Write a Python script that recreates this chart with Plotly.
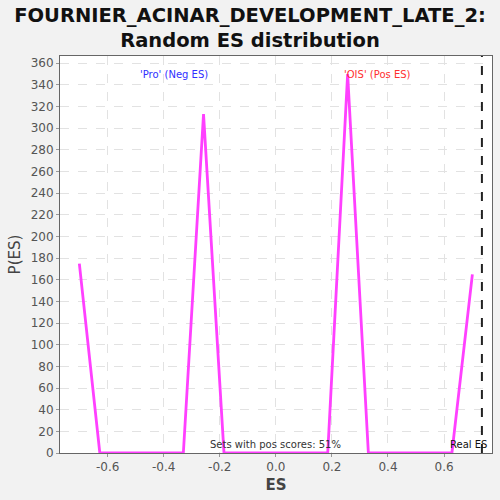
import plotly.graph_objects as go

# Data
es_values = [-0.701, -0.628, -0.330, -0.258, -0.185, 0.185, 0.256, 0.330, 0.628, 0.701]
p_es = [175, 0, 0, 313, 0, 0, 350, 0, 0, 165]
real_es = 0.735
x_ticks = [-0.6, -0.4, -0.2, 0.0, 0.2, 0.4, 0.6]
x_tick_labels = ["-0.6", "-0.4", "-0.2", "0.0", "0.2", "0.4", "0.6"]
y_ticks = list(range(0, 361, 20))
title_text = "FOURNIER_ACINAR_DEVELOPMENT_LATE_2:<br>Random ES distribution"
neg_label = "'Pro' (Neg ES)"
pos_label = "'OIS' (Pos ES)"
pos_text = "Sets with pos scores: 51%"

fig = go.Figure()
fig.add_trace(go.Scatter(
    x=es_values, y=p_es, mode="lines",
    line=dict(color="#FF40FF", width=2.8),
    hoverinfo="skip", showlegend=False,
))

fig.add_shape(type="line", xref="x", yref="paper", x0=real_es, x1=real_es, y0=0, y1=1,
              line=dict(color="#222222", width=2, dash="dash"))

fig.add_annotation(x=-0.363, y=1, yref="paper", yshift=-11, text=neg_label, showarrow=False,
                   font=dict(family="DejaVu Sans", size=10, color="#3030FF"))
fig.add_annotation(x=0.363, y=1, yref="paper", yshift=-11, text=pos_label, showarrow=False,
                   font=dict(family="DejaVu Sans", size=10, color="#FF3030"))
fig.add_annotation(x=0.0, y=0, yref="paper", yshift=1, text=pos_text, showarrow=False,
                   font=dict(family="DejaVu Sans", size=10, color="#333333"))
fig.add_annotation(x=1, xref="paper", xanchor="right", xshift=-3, y=0, yref="paper", yshift=1,
                   text="Real ES", showarrow=False,
                   font=dict(family="DejaVu Sans", size=10, color="#111111"))

fig.update_layout(
    width=500, height=500,
    margin=dict(l=60, r=8, t=56, b=47),
    paper_bgcolor="#F2F2F2",
    plot_bgcolor="#FFFFFF",
    title=dict(text=title_text, x=0.5, xanchor="center", y=0.957, yanchor="middle",
               xref="container", yref="container",
               font=dict(family="DejaVu Sans", size=19.5, color="#111111", weight="bold")),
    xaxis=dict(
        range=[-0.77, 0.771], tickvals=x_ticks, ticktext=x_tick_labels,
        showgrid=True, gridcolor="#E2E2E2", griddash="dash", gridwidth=1,
        zeroline=False, showline=True, linecolor="#666666", linewidth=1, mirror=True,
        ticks="outside", ticklen=3, tickcolor="#999999",
        tickfont=dict(family="DejaVu Sans", size=12, color="#555555"),
        title=dict(text="<b>ES</b>", font=dict(family="DejaVu Sans", size=15, color="#444444"), standoff=6),
    ),
    yaxis=dict(
        range=[0, 366.7], tickvals=y_ticks,
        showgrid=True, gridcolor="#E2E2E2", griddash="dash", gridwidth=1,
        zeroline=False, showline=True, linecolor="#666666", linewidth=1, mirror=True,
        ticks="outside", ticklen=3, tickcolor="#999999",
        tickfont=dict(family="DejaVu Sans", size=12, color="#555555"),
        title=dict(text="P(ES)", font=dict(family="DejaVu Sans", size=15, color="#444444"), standoff=6),
    ),
)

fig.write_html("out.html", config={"displayModeBar": False},
               post_script="document.body.style.margin='0';document.body.style.overflow='hidden';")
